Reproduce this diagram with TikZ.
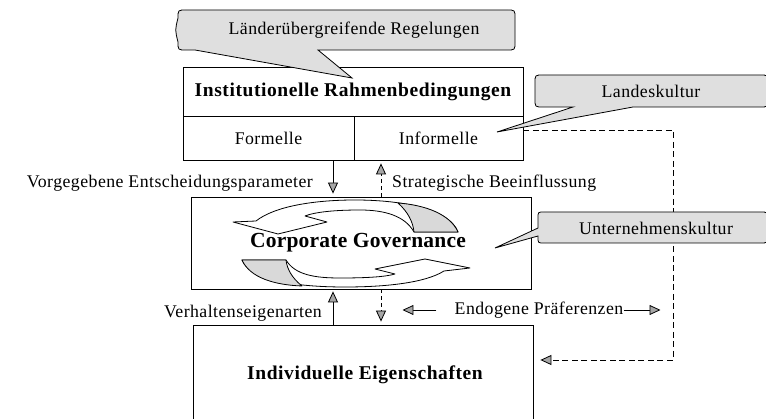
\documentclass[tikz,border=0pt]{standalone}
\usepackage{fontspec}
\setmainfont{Liberation Serif}
\newfontfamily\spaced{Liberation Serif}[LetterSpace=2.5]
\newfontfamily\spacedb{Liberation Serif}[LetterSpace=3]
\newfontfamily\spacedc{Liberation Serif}[LetterSpace=1]
\usetikzlibrary{arrows.meta,calc}

\begin{document}
\begin{tikzpicture}[x=1pt,y=-1pt,
  txt/.style={font=\spaced\fontsize{17.8}{21}\selectfont, inner sep=0pt},
  ttl/.style={font=\spacedb\bfseries\fontsize{19.5}{23}\selectfont},
  bigttl/.style={font=\spacedc\bfseries\fontsize{21.5}{25}\selectfont, inner sep=0pt},
  cell/.style={draw, line width=0.8pt, inner sep=0pt},
  bubble/.style={draw, line width=0.8pt, fill=gray!25},
  flow/.style={line width=0.8pt, -{Triangle[length=11pt,width=10pt,fill=gray!70]}},
  dflow/.style={flow, dash pattern=on 4pt off 3pt},
  route/.style={flow, dash pattern=on 6pt off 3.5pt},
  ribbon/.style={draw, line width=0.8pt, fill=white, line join=round},
  ribbonback/.style={draw, line width=0.8pt, fill=gray!30, line join=round},
]
\useasboundingbox (0,0) rectangle (766,419);
\fill[white] (0,0) rectangle (766,419);

% --- the three levels ---
\node[cell, ttl, minimum width=340pt, minimum height=49pt] (inst) at (353,91.5) {Institutionelle Rahmenbedingungen};
\node[cell, txt, minimum width=171pt, minimum height=44pt] (formal) at (268.5,138) {Formelle};
\node[cell, txt, minimum width=169pt, minimum height=44pt] (informal) at (438.5,138) {Informelle};

\node[cell, minimum width=340pt, minimum height=92pt] (gov) at (361,243) {};
\node[cell, minimum width=340pt, minimum height=99pt] (ind) at (363,374.5) {};
\node[ttl, inner sep=0pt] (indtxt) at (365,375) {Individuelle Eigenschaften};

% --- cycle of curved arrows inside the governance box ---
% upper ribbon, running right to left
\path[ribbon] (256,221) .. controls (275,206) and (315,200) .. (355,200)
  .. controls (405,200) and (450,210) .. (458,232) -- (414,232)
  .. controls (405,216) and (385,210) .. (360,210)
  .. controls (335,210) and (315,212) .. (305,216)
  -- (327,222) -- (278,234) -- (233,222) -- cycle;
\path[ribbonback] (458,232) .. controls (450,214) and (425,205) .. (398,203)
  .. controls (408,212) and (413,222) .. (414,232) -- cycle;
% lower ribbon, running left to right
\path[ribbon] (444,271) .. controls (425,283) and (385,287) .. (345,287)
  .. controls (295,287) and (250,280) .. (242,260) -- (286,260)
  .. controls (295,275) and (315,278) .. (340,278)
  .. controls (365,278) and (385,277) .. (395,274)
  -- (375,269) -- (425,259) -- (470,268) -- cycle;
\path[ribbonback] (242,260) .. controls (250,278) and (275,285) .. (302,286)
  .. controls (292,278) and (287,269) .. (286,260) -- cycle;
\node[bigttl] (govtxt) at (358,243) {Corporate Governance};

% --- vertical influences ---
\coordinate (xa) at (333,0);
\coordinate (xb) at (381,0);
\draw[flow, shorten >=3pt] (formal.south -| xa) -- (gov.north -| xa);
\draw[dflow, shorten >=3pt] (gov.north -| xb) -- (informal.south -| xb);
\draw[flow, shorten >=2pt] (ind.north -| xa) -- (gov.south -| xa);
\draw[dflow, shorten >=3pt] (gov.south -| xb) -- (ind.north -| xb);

\node[txt, anchor=east] (vep) at (313,183) {Vorgegebene Entscheidungsparameter};
\node[txt, anchor=west] (sb) at (392,183) {Strategische Beeinflussung};
\node[txt, anchor=east] (va) at (322,313) {Verhaltenseigenarten};

\node[txt] (endo) at (539,310) {Endogene Präferenzen};
\draw[flow] ([xshift=-18pt]endo.west) -- ([xshift=-52pt]endo.west);
\draw[flow] (endo.east) -- ([xshift=37pt]endo.east);

% --- informal institutions reach the individual level ---
\coordinate (r1) at (673,130);
\coordinate (r2) at (673,360);
\draw[route] (informal.east |- r1) -- (r1) -- (r2) -- ($(ind.east |- r2)+(7,0)$);

% --- callouts ---
\path[bubble] (178,18) .. controls (178,10) .. (186,10) -- (507,10)
  .. controls (515,10) .. (515,18) -- (515,42) .. controls (515,50) .. (507,50)
  -- (318,50) -- (352,78) -- (195,50) -- (186,50)
  .. controls (178,50) .. (178,42) .. controls (175,30) .. (178,18) -- cycle;
\node[txt] (lr) at (354,30) {Länderübergreifende Regelungen};

\path[bubble] (535,83) .. controls (535,75) .. (543,75) -- (760,75)
  .. controls (768,75) .. (768,83) -- (768,99) .. controls (768,107) .. (760,107)
  -- (633,107) -- (497,132) -- (573,107) -- (543,107)
  .. controls (535,107) .. (535,99) -- cycle;
\node[txt] (lk) at (651,91) {Landeskultur};

\path[bubble] (538,218) .. controls (538,212) .. (544,212) -- (760,212)
  .. controls (768,212) .. (768,220) -- (768,235) .. controls (768,243) .. (760,243)
  -- (544,243) .. controls (538,243) .. (538,237) -- (538,236)
  -- (495,248) -- (538,228) -- cycle;
\node[txt] (uk) at (656,228) {Unternehmenskultur};
\end{tikzpicture}
\end{document}
